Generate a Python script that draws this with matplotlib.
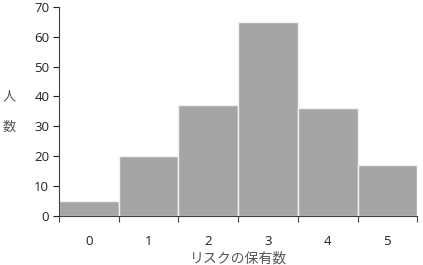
import matplotlib.pyplot as plt

plt.rcParams['font.family'] = ['Open Sans', 'Noto Sans CJK JP', 'DejaVu Sans']

risk_counts = [0, 1, 2, 3, 4, 5]
people = [5, 20, 37, 65, 36, 17]
tick_labels = ['0', '1', '2', '3', '4', '5']

fig = plt.figure(figsize=(4.23, 2.65), dpi=100)
ax = fig.add_axes([0.1395, 0.185, 0.847, 0.789])

ax.bar(risk_counts, people, width=1.0, color='#a5a5a5', edgecolor='#f2f2f2', linewidth=1.0)

ax.set_xlim(-0.5, 5.5)
ax.set_ylim(0, 70)
ax.set_yticks(range(0, 71, 10))
ax.set_xticks(risk_counts)
ax.set_xticklabels(tick_labels)
# ticks on the bin edges, labels centred under the bars
ax.set_xticks([x - 0.5 for x in risk_counts] + [5.5], minor=True)
ax.tick_params(axis='x', which='major', length=0, pad=14, labelsize=9.5, colors='#222222')
ax.tick_params(axis='x', which='minor', length=4, width=0.8, color='#404040')
ax.tick_params(axis='y', length=4, width=0.8, labelsize=9.5, colors='#222222', pad=3)

for side in ['top', 'right']:
    ax.spines[side].set_visible(False)
for side in ['left', 'bottom']:
    ax.spines[side].set_color('#404040')
    ax.spines[side].set_linewidth(0.8)

ax.set_xlabel('リスクの保有数', family=['Noto Sans CJK JP'], fontsize=10, color='#555555', labelpad=2)
fig.text(0.022, 0.635, '人', family=['Noto Sans CJK JP'], fontsize=9.5, color='#555555', ha='center', va='center')
fig.text(0.022, 0.52, '数', family=['Noto Sans CJK JP'], fontsize=9.5, color='#555555', ha='center', va='center')

fig.savefig('out.png', dpi=100)
